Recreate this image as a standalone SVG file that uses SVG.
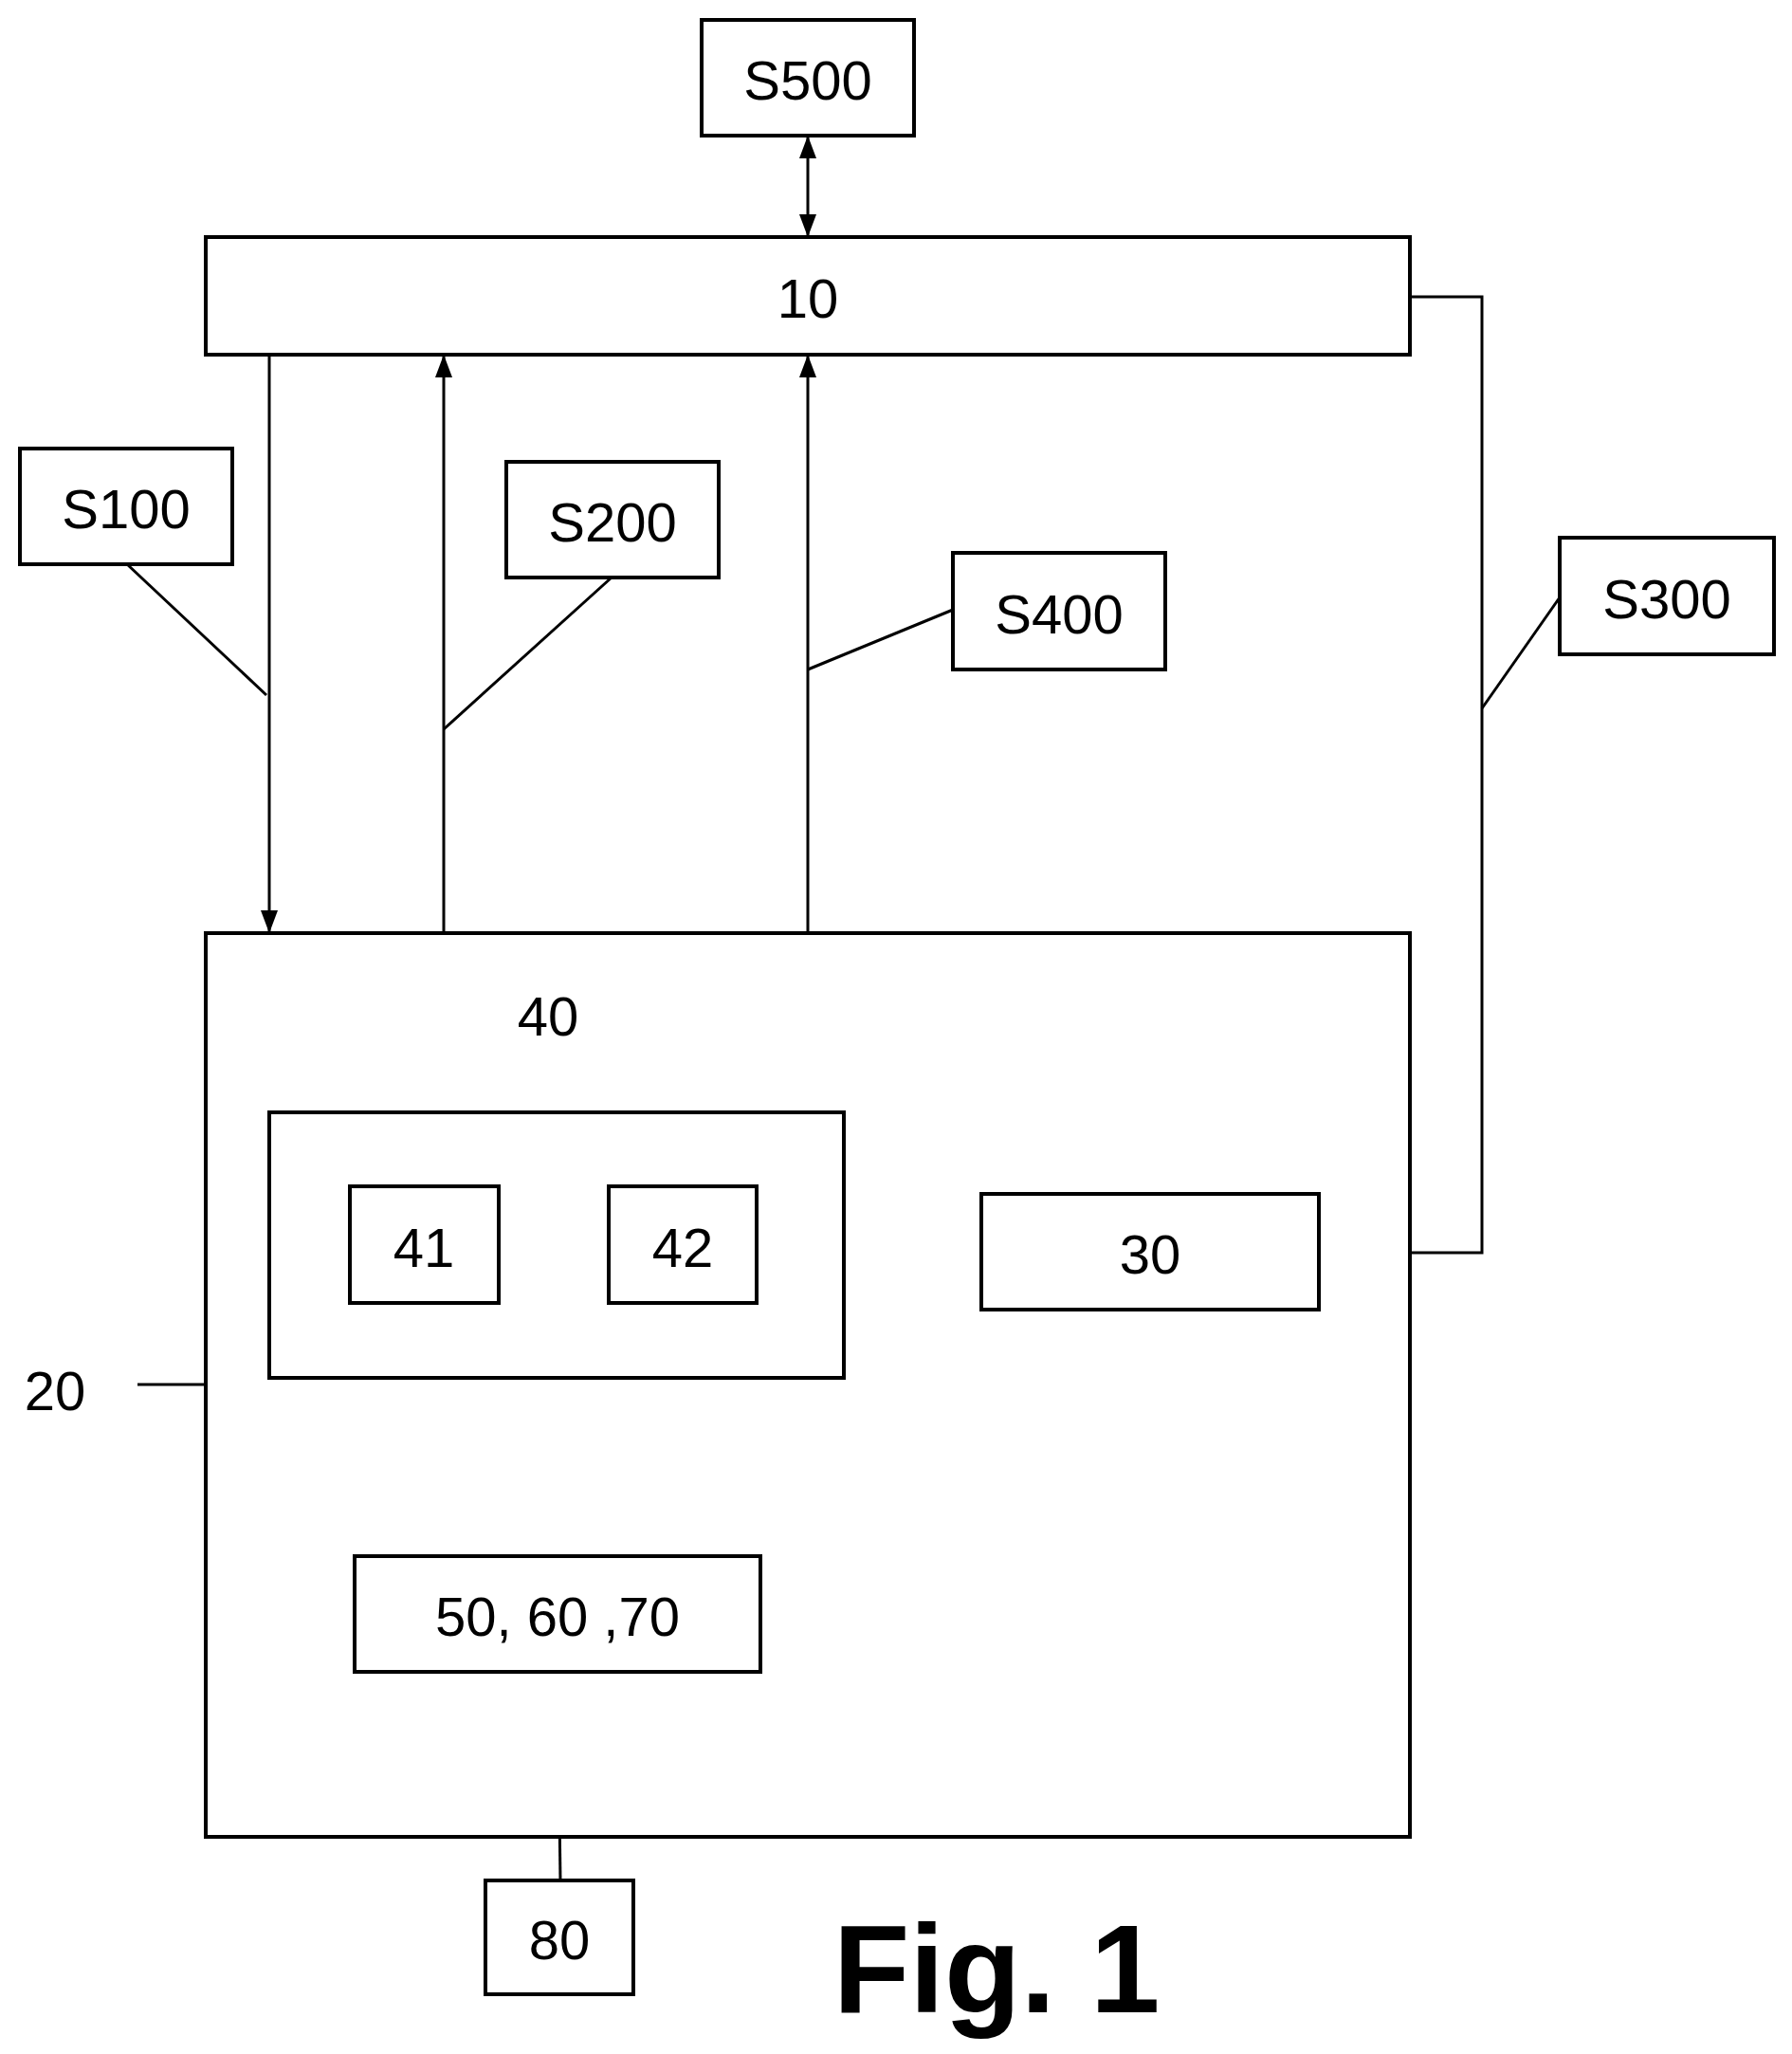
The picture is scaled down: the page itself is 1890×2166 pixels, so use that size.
<svg xmlns="http://www.w3.org/2000/svg" width="1890" height="2166" viewBox="0 0 1890 2166">
<style>
rect{fill:#fff;stroke:#000;stroke-width:4}
line,polyline{stroke:#000;stroke-width:3;fill:none}
text{font-family:"Liberation Sans",Arial,sans-serif;font-size:58px;text-anchor:middle;fill:#000}
</style>
<defs>
<marker id="a" viewBox="0 0 10 10" refX="10" refY="5" markerWidth="8" markerHeight="8" orient="auto-start-reverse" markerUnits="userSpaceOnUse"><path d="M0,0L10,5L0,10z" fill="#000" transform="scale(1)"/></marker>
<marker id="b" viewBox="0 0 10 10" refX="10" refY="5" markerWidth="24" markerHeight="18" orient="auto-start-reverse" markerUnits="userSpaceOnUse" preserveAspectRatio="none"><path d="M0,0L10,5L0,10z" fill="#000"/></marker>
</defs>
<g id="connectors">
<line x1="852" y1="143" x2="852" y2="250" marker-start="url(#b)" marker-end="url(#b)"/>
<line x1="284" y1="374" x2="284" y2="984" marker-end="url(#b)"/>
<line x1="468" y1="984" x2="468" y2="374" marker-end="url(#b)"/>
<line x1="852" y1="984" x2="852" y2="374" marker-end="url(#b)"/>
<polyline points="1487,313 1563,313 1563,1321 1391,1321" marker-end="url(#b)"/>
<line x1="588" y1="1641" x2="588" y2="1453" marker-end="url(#b)"/>
<line x1="591" y1="1983" x2="588" y2="1763" marker-end="url(#b)"/>
<line x1="134" y1="595" x2="281" y2="733"/>
<line x1="645" y1="609" x2="468" y2="769"/>
<line x1="1005" y1="643" x2="852" y2="706"/>
<line x1="1645" y1="630" x2="1563" y2="747"/>
<line x1="588" y1="1132" x2="588" y2="1173"/>
<line x1="145" y1="1460" x2="217" y2="1460"/>
</g>
<g id="S500"><rect x="740" y="21" width="224" height="122"/><text x="852" y="105">S500</text></g>
<g id="n10"><rect x="217" y="250" width="1270" height="124"/><text x="852" y="335">10</text></g>
<g id="S100"><rect x="21" y="473" width="224" height="122"/><text x="133" y="557">S100</text></g>
<g id="S200"><rect x="534" y="487" width="224" height="122"/><text x="646" y="571">S200</text></g>
<g id="S400"><rect x="1005" y="583" width="224" height="123"/><text x="1117" y="668">S400</text></g>
<g id="S300"><rect x="1645" y="567" width="226" height="123"/><text x="1758" y="652">S300</text></g>
<g id="n20"><rect x="217" y="984" width="1270" height="953"/><text x="58" y="1487">20</text></g>
<g id="n40"><rect x="284" y="1173" width="606" height="280"/><text x="578" y="1092">40</text></g>
<g id="n41"><rect x="369" y="1251" width="157" height="123"/><text x="447" y="1336">41</text></g>
<g id="n42"><rect x="642" y="1251" width="156" height="123"/><text x="720" y="1336">42</text></g>
<g id="n30"><rect x="1035" y="1259" width="356" height="122"/><text x="1213" y="1343">30</text></g>
<g id="n50"><rect x="374" y="1641" width="428" height="122"/><text x="588" y="1725">50, 60 ,70</text></g>
<g id="n80"><rect x="512" y="1983" width="156" height="120"/><text x="590" y="2066">80</text></g>
<text x="1051" y="2122" style="font-size:132px;font-weight:bold">Fig. 1</text>
</svg>
